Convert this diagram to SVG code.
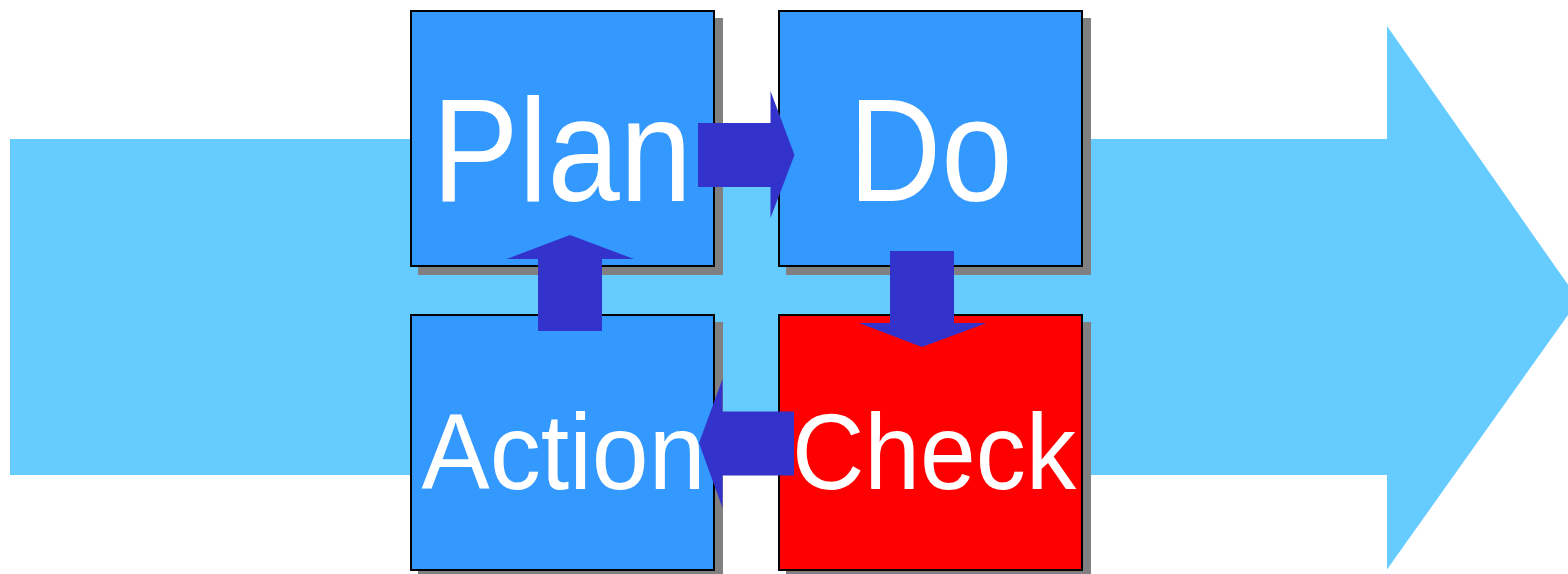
<svg xmlns="http://www.w3.org/2000/svg" width="1568" height="574" viewBox="0 0 1568 574">
<style>
.bg{fill:#66CCFF}
.shadow{fill:#808080}
.box{stroke:#000;stroke-width:2}
.blue{fill:#3399FF}
.red{fill:#FF0000}
.arr{fill:#3333CC}
.lbl{font-family:"Liberation Sans",Arial,sans-serif;fill:#fff}
.big{font-size:146px}
.small{font-size:107px}
</style>
<rect width="1568" height="574" fill="#fff"/>
<g id="flow">
<polygon class="bg" points="10,139 1387,139 1387,26 1578.6,300 1387,569.5 1387,475 10,475"/>
</g>
<g id="plan">
<rect class="shadow" x="418" y="18" width="305" height="257"/>
<rect class="box blue" x="411" y="11" width="303" height="255"/>
<text class="lbl big" x="432" y="201" textLength="260" lengthAdjust="spacingAndGlyphs">Plan</text>
</g>
<g id="do">
<rect class="shadow" x="786" y="18" width="305" height="257"/>
<rect class="box blue" x="779" y="11" width="303" height="255"/>
<text class="lbl big" x="848.5" y="201" textLength="164" lengthAdjust="spacingAndGlyphs">Do</text>
</g>
<g id="action">
<rect class="shadow" x="418" y="322" width="305" height="257"/>
<rect class="box blue" x="411" y="315" width="303" height="255"/>
<text class="lbl small" x="421.5" y="488.5" textLength="284" lengthAdjust="spacingAndGlyphs">Action</text>
</g>
<g id="check">
<rect class="shadow" x="786" y="322" width="305" height="257"/>
<rect class="box red" x="779" y="315" width="303" height="255"/>
<text class="lbl small" x="792" y="488.5" textLength="284" lengthAdjust="spacingAndGlyphs">Check</text>
</g>
<g id="connectors">
<polygon class="arr" points="698,123 770.5,123 770.5,91 794.5,155 770.5,218 770.5,187 698,187"/>
<polygon class="arr" points="890,251 954,251 954,323 986.5,323 922,347 859,323 890,323"/>
<polygon class="arr" points="794,411.5 722.5,411.5 722.5,379 699,443 722.5,508 722.5,475.5 794,475.5"/>
<polygon class="arr" points="538,331 538,259 506.5,259 570,235 634,259 602,259 602,331"/>
</g>
</svg>
